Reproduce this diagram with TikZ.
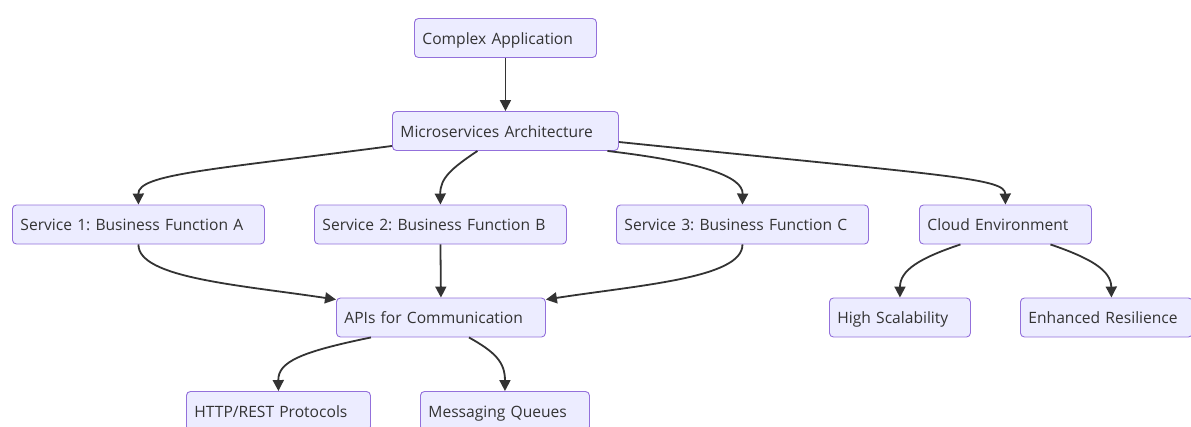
\documentclass[tikz,border=0pt]{standalone}
\usepackage{fontspec}
\setmainfont{Open Sans}
\usetikzlibrary{arrows.meta}
\definecolor{boxfill}{HTML}{ECECFF}
\definecolor{boxborder}{HTML}{9370DB}
\definecolor{linec}{HTML}{333333}
\definecolor{textc}{HTML}{333333}
\frenchspacing
\begin{document}
\begin{tikzpicture}[x=1pt,y=-1pt,
  box/.style={draw=boxborder, fill=boxfill, rounded corners=4pt, line width=0.9pt,
    minimum height=39pt, inner xsep=8pt, inner ysep=0pt, align=left, anchor=west,
    text height=14pt, text depth=2pt,
    text=textc, font=\fontsize{15.6}{19}\selectfont},
  edge/.style={draw=linec, line width=1.8pt, -{Triangle[length=11pt,width=11pt]}}]
\useasboundingbox (0,0) rectangle (1191,426);
\node[box, text width=166pt] (comp) at (414,38) {Complex Application};
\node[box, text width=210pt] (micro) at (392,131) {Microservices Architecture};
\node[box, text width=236pt] (s1) at (12,224.5) {Service 1: Business Function A};
\node[box, text width=236pt] (s2) at (314,224.5) {Service 2: Business Function B};
\node[box, text width=236pt] (s3) at (616,224.5) {Service 3: Business Function C};
\node[box, text width=156pt] (cloud) at (919,224.5) {Cloud Environment};
\node[box, text width=193pt] (api) at (336,317.5) {APIs for Communication};
\node[box, text width=125pt] (hs) at (829,317.5) {High Scalability};
\node[box, text width=156pt] (er) at (1020,317.5) {Enhanced Resilience};
\node[box, text width=168pt] (http) at (186,411) {HTTP/REST Protocols};
\node[box, text width=153pt] (mq) at (420,411) {Messaging Queues};
% edges
\draw[edge] (comp.south) -- (micro.north);
\draw[edge] ([yshift=5pt]micro.south west) .. controls (210,170) and (138,174) .. (s1.north);
\draw[edge] ([xshift=-28pt]micro.south) .. controls (452,168) and (440,178) .. (s2.north);
\draw[edge] ([xshift=102pt]micro.south) .. controls (700,162) and (743,176) .. (s3.north);
\draw[edge] ([yshift=-11pt]micro.east) .. controls (950,176) and (1005,178) .. (cloud.north);
\draw[edge] (s1.south) .. controls (138,278) and (240,285) .. ([yshift=-2pt]api.north west);
\draw[edge] (s2.south) -- (api.north);
\draw[edge] (s3.south) .. controls (743,278) and (640,285) .. ([yshift=-2pt]api.north east);
\draw[edge] ([xshift=-70pt]api.south) .. controls (300,352) and (278,362) .. (http.north);
\draw[edge] ([xshift=28pt]api.south) .. controls (495,352) and (505,362) .. (mq.north);
\draw[edge] ([xshift=-45pt]cloud.south) .. controls (920,258) and (900,270) .. (hs.north);
\draw[edge] ([xshift=45pt]cloud.south) .. controls (1090,258) and (1111,270) .. ([xshift=5pt]er.north);
\end{tikzpicture}
\end{document}
